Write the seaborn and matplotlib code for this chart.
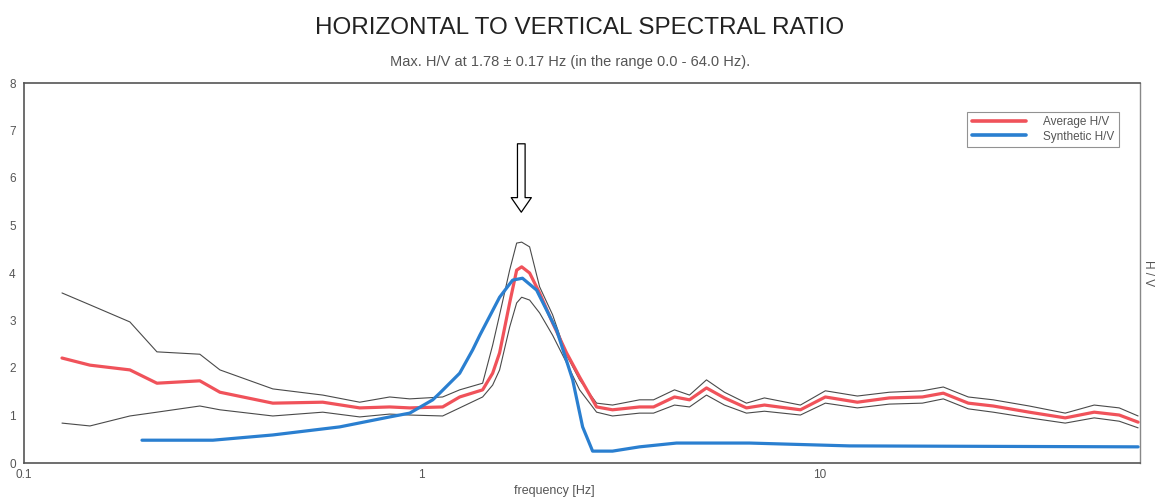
import numpy as np
import pandas as pd
import matplotlib
matplotlib.use("Agg")
import matplotlib.pyplot as plt
import seaborn as sns
from matplotlib.lines import Line2D

# ---- data ----
freq = [0.1246, 0.1465, 0.1846, 0.2159, 0.2768, 0.3109, 0.4223, 0.5640, 0.6985, 0.8309,
        0.9329, 1.129, 1.246, 1.423, 1.508, 1.570, 1.664, 1.733, 1.784, 1.868,
        1.979, 2.134, 2.313, 2.495, 2.753, 3.019, 3.530, 3.828, 4.322, 4.714,
        5.201, 5.771, 6.555, 7.274, 8.960, 10.35, 12.46, 14.99, 18.15, 20.49,
        23.68, 27.36, 33.70, 41.51, 49.09, 56.74, 63.3]
avg_hv = [2.21, 2.06, 1.96, 1.68, 1.73, 1.49, 1.26, 1.28, 1.16, 1.18,
          1.16, 1.18, 1.39, 1.54, 1.89, 2.32, 3.37, 4.06, 4.13, 4.00,
          3.58, 2.95, 2.32, 1.81, 1.18, 1.12, 1.18, 1.18, 1.39, 1.33,
          1.58, 1.37, 1.16, 1.22, 1.12, 1.39, 1.28, 1.37, 1.39, 1.47,
          1.26, 1.20, 1.07, 0.95, 1.07, 1.01, 0.86]
upper_hv = [3.58, 3.33, 2.97, 2.34, 2.29, 1.96, 1.56, 1.43, 1.28, 1.39,
            1.35, 1.39, 1.54, 1.68, 2.48, 3.12, 4.06, 4.63, 4.65, 4.55,
            3.71, 3.12, 2.27, 1.75, 1.26, 1.22, 1.33, 1.33, 1.54, 1.43,
            1.75, 1.49, 1.26, 1.37, 1.22, 1.52, 1.41, 1.49, 1.52, 1.60,
            1.39, 1.33, 1.20, 1.05, 1.22, 1.16, 0.99]
lower_hv = [0.84, 0.78, 0.99, 1.07, 1.20, 1.12, 0.99, 1.07, 0.97, 1.03,
            1.01, 0.99, 1.16, 1.39, 1.64, 1.96, 2.86, 3.37, 3.49, 3.43,
            3.16, 2.69, 2.11, 1.54, 1.07, 0.99, 1.05, 1.05, 1.22, 1.18,
            1.43, 1.22, 1.05, 1.09, 1.01, 1.26, 1.16, 1.24, 1.26, 1.35,
            1.14, 1.07, 0.95, 0.84, 0.95, 0.88, 0.74]

syn_freq = [0.198, 0.2985, 0.422, 0.622, 0.831, 0.933, 1.066, 1.11, 1.246, 1.343,
            1.40, 1.570, 1.693, 1.792, 1.945, 2.184, 2.397, 2.539, 2.690, 3.019,
            3.530, 4.372, 6.67, 11.9, 63.3]
syn_hv = [0.48, 0.48, 0.59, 0.76, 0.97, 1.05, 1.33, 1.47, 1.89, 2.38,
          2.69, 3.49, 3.85, 3.89, 3.64, 2.80, 1.75, 0.76, 0.25, 0.25,
          0.34, 0.42, 0.42, 0.36, 0.34]

peak_f = 1.78
x_ticks = [0.1, 1, 10]
x_tick_labels = ["0.1", "1", "10"]
y_ticks = [0, 1, 2, 3, 4, 5, 6, 7, 8]

sns.set_theme(style="white")
plt.rcParams["font.family"] = ["Liberation Sans", "DejaVu Sans"]

fig = plt.figure(figsize=(11.6, 5.0), dpi=100)
ax = fig.add_axes([24/1160, 37/500, 1116/1160, 380/500])

red = "#f0525a"
blue = "#2a7fd0"
gray_env = "#4a4a4a"

df = pd.DataFrame({"f": freq, "avg": avg_hv, "up": upper_hv, "lo": lower_hv})
dsyn = pd.DataFrame({"f": syn_freq, "hv": syn_hv})

sns.lineplot(data=df, x="f", y="up", ax=ax, color=gray_env, lw=0.8, sort=False, zorder=2)
sns.lineplot(data=df, x="f", y="lo", ax=ax, color=gray_env, lw=0.8, sort=False, zorder=2)
sns.lineplot(data=df, x="f", y="avg", ax=ax, color=red, lw=2.3, sort=False, zorder=3)
sns.lineplot(data=dsyn, x="f", y="hv", ax=ax, color=blue, lw=2.3, sort=False, zorder=4)

ax.set_xscale("log")
ax.set_xlim(0.1, 64)
ax.set_ylim(0, 8)
ax.set_xticks(x_ticks)
ax.set_xticklabels(x_tick_labels)
ax.xaxis.set_minor_locator(matplotlib.ticker.NullLocator())
ax.set_yticks(y_ticks)
ax.set_yticklabels([str(v) for v in y_ticks])
ax.tick_params(axis="both", length=0, labelsize=8.5, labelcolor="#555555", pad=4)
ax.tick_params(axis="y", pad=6)

ax.set_xlabel("")
ax.set_ylabel("")
fig.text(554/1160, 1 - 491/500, "frequency [Hz]", fontsize=9, color="#555555",
         ha="center", va="center")
ax.text(1.002, 0.5, "H / V", transform=ax.transAxes, rotation=-90, fontsize=8.5,
        color="#555555", va="center", ha="left")

for side in ["left", "bottom", "top"]:
    ax.spines[side].set_color("#555555")
    ax.spines[side].set_linewidth(1.2)
ax.spines["right"].set_color("#888888")
ax.spines["right"].set_linewidth(1.0)

# hollow arrow pointing at the peak
ax.annotate("", xy=(peak_f, 5.28), xytext=(peak_f, 6.72),
            arrowprops=dict(arrowstyle="simple,head_width=1.45,head_length=1.05,tail_width=0.55",
                            fc="white", ec="black", lw=0.9, mutation_scale=10,
                            shrinkA=0, shrinkB=0))

handles = [Line2D([0], [0], color=red, lw=2.6), Line2D([0], [0], color=blue, lw=2.6)]
leg = ax.legend(handles, ["Average H/V", "Synthetic H/V"], loc="upper right",
                bbox_to_anchor=(0.981, 0.925), fontsize=8.5, frameon=True, fancybox=False,
                handlelength=4.6, borderpad=0.4, labelspacing=0.2, handletextpad=1.4,
                borderaxespad=0)
leg.get_frame().set_edgecolor("#777777")
leg.get_frame().set_linewidth(0.8)
for t in leg.get_texts():
    t.set_color("#555555")

fig.text(0.500, 1 - 28/500, "HORIZONTAL TO VERTICAL SPECTRAL RATIO", ha="center", va="center",
         fontsize=17.5, color="#222222")
fig.text(570/1160, 1 - 62/500, "Max. H/V at 1.78 \u00b1 0.17 Hz (in the range 0.0 - 64.0 Hz).",
         ha="center", va="center", fontsize=10.5, color="#555555")

fig.savefig("out.png", dpi=100)
